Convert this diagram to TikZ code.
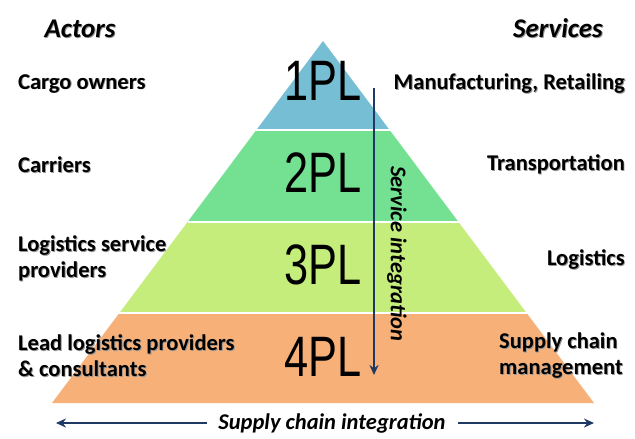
\documentclass[tikz,border=0pt]{standalone}
\usepackage{fontspec}
\setmainfont{Carlito}
\newfontfamily\plfont[FakeStretch=0.76]{Liberation Sans}
\usetikzlibrary{arrows.meta}
\definecolor{lblue}{RGB}{118,190,212}
\definecolor{lgreen}{RGB}{115,224,146}
\definecolor{llime}{RGB}{196,237,123}
\definecolor{lorange}{RGB}{246,176,120}
\definecolor{navy}{RGB}{31,56,100}
\definecolor{shd}{RGB}{150,150,150}
\newcommand\shtx[1]{\leavevmode\rlap{\hspace{0.9pt}\raisebox{-0.9pt}{\textcolor{shd}{#1}}}#1}
\tikzset{
  lbl/.style={font=\fontsize{22.5}{26.5}\selectfont\bfseries, inner sep=0pt, align=left},
  rlbl/.style={font=\fontsize{22.5}{26.5}\selectfont\bfseries, inner sep=0pt, align=right},
  head/.style={font=\fontsize{27}{30}\selectfont\bfseries\itshape, inner sep=0pt},
  pl/.style={font=\plfont\fontsize{57}{57}\selectfont, inner sep=0pt},
  integ/.style={font=\fontsize{22.5}{24}\selectfont\bfseries\itshape, inner sep=0pt},
  arr/.style={draw=navy, line width=2.3pt, -{Stealth[length=10pt,width=9pt]}},
  sep/.style={draw=white, line width=2pt}
}
\begin{document}
\begin{tikzpicture}[x=1pt,y=-1pt]
\useasboundingbox (0,0) rectangle (635,439);
% pyramid
\coordinate (apex) at (323,41);
\coordinate (bl) at (52,403);
\coordinate (br) at (594,403);
\coordinate (l1) at (256.4,130); \coordinate (r1) at (389.6,130);
\coordinate (l2) at (187.5,222); \coordinate (r2) at (458.5,222);
\coordinate (l3) at (119.4,313); \coordinate (r3) at (526.6,313);
\fill[lblue] (apex) -- (l1) -- (r1) -- cycle;
\fill[lgreen] (l1) -- (l2) -- (r2) -- (r1) -- cycle;
\fill[llime] (l2) -- (l3) -- (r3) -- (r2) -- cycle;
\fill[lorange] (l3) -- (bl) -- (br) -- (r3) -- cycle;
\draw[sep] (l1) -- (r1);
\draw[sep] (l2) -- (r2);
\draw[sep] (l3) -- (r3);
% PL labels
\node[pl] (p1) at (323,81) {1PL};
\node[pl] (p2) at (323,173) {2PL};
\node[pl] (p3) at (323,265) {3PL};
\node[pl] (p4) at (323,357) {4PL};
% headings
\node[head] (actors) at (80,29) {\shtx{Actors}};
\node[head] (services) at (558,29) {\shtx{Services}};
% left labels
\node[lbl, anchor=west] (a1) at (18,84) {\shtx{Cargo owners}};
\node[lbl, anchor=west] (a2) at (18,165) {\shtx{Carriers}};
\node[lbl, anchor=west] (a3) at (18,259) {\shtx{Logistics service}\\\shtx{providers}};
\node[lbl, anchor=west] (a4) at (18,356) {\shtx{Lead logistics providers}\\\shtx{\& consultants}};
% right labels
\node[rlbl, anchor=east] (s1) at (625,84) {\shtx{Manufacturing, Retailing}};
\node[rlbl, anchor=east] (s2) at (625,165) {\shtx{Transportation}};
\node[rlbl, anchor=east] (s3) at (625,260) {\shtx{Logistics}};
\node[lbl, anchor=west] (s4) at (499,356) {\shtx{Supply chain}\\\shtx{management}};
% service integration arrow
\coordinate (vtop) at (374,88);
\coordinate (vbot) at (374,375);
\draw[arr] (vtop) -- (vbot);
\node[integ, rotate=-90] (si) at (397,254) {Service integration};
% supply chain integration
\node[integ] (sci) at (332,423) {Supply chain integration};
\coordinate (hl) at (56,423);
\coordinate (hr) at (594,423);
\coordinate (hlt) at (207,423);
\coordinate (hrt) at (458,423);
\draw[arr] (hlt) -- (hl);
\draw[arr] (hrt) -- (hr);
\end{tikzpicture}
\end{document}
